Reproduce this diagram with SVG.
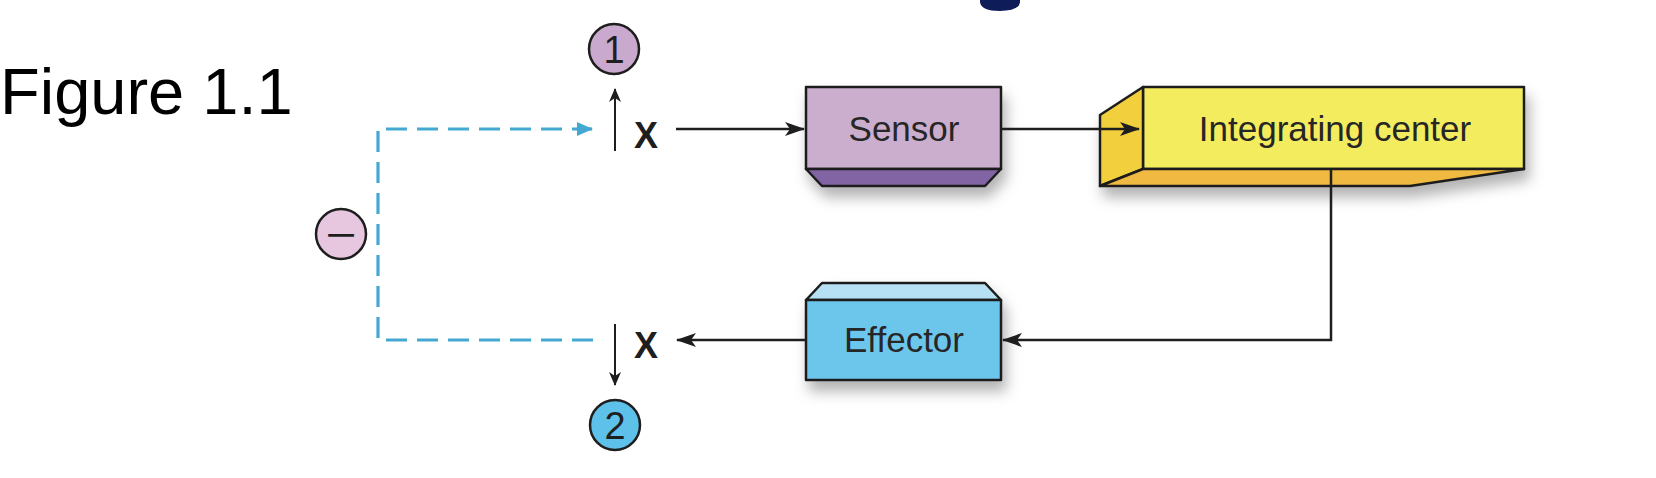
<svg xmlns="http://www.w3.org/2000/svg" width="1656" height="478" viewBox="0 0 1656 478">
<style>
.edge{fill:none;stroke:#1e1e1e;stroke-width:2.5}
.thin{fill:none;stroke:#1e1e1e;stroke-width:2}
.dash{fill:none;stroke:#45a8d3;stroke-width:3.2;stroke-dasharray:21 10}
.box{stroke:#1e1e1e;stroke-width:2.5;stroke-linejoin:round}
.lbl{font-family:"Liberation Sans",Arial,sans-serif;font-size:35px;fill:#262626;text-anchor:middle}
.num{font-family:"Liberation Sans",Arial,sans-serif;font-size:38px;fill:#1e1e1e;text-anchor:middle}
.x{font-family:"Liberation Sans",Arial,sans-serif;font-size:36px;font-weight:bold;fill:#1e1e1e;text-anchor:middle}
.circ{stroke:#1e1e1e;stroke-width:2.5}
</style>
<defs>
<marker id="ah" markerUnits="userSpaceOnUse" markerWidth="20" markerHeight="14" refX="19" refY="7" orient="auto">
<path d="M0,0 L20,7 L0,14 L5,7 z" fill="#1e1e1e"/>
</marker>
<marker id="ahs" markerUnits="userSpaceOnUse" markerWidth="14" markerHeight="12" refX="13" refY="6" orient="auto">
<path d="M0,0 L14,6 L0,12 L4,6 z" fill="#1e1e1e"/>
</marker>
<marker id="ahb" markerUnits="userSpaceOnUse" markerWidth="16" markerHeight="14" refX="15" refY="7" orient="auto">
<path d="M0,0 L16,7 L0,14 z" fill="#45a8d3"/>
</marker>
<filter id="sh" x="-20%" y="-30%" width="150%" height="180%">
<feDropShadow dx="4" dy="10" stdDeviation="7" flood-color="#000" flood-opacity="0.3"/>
</filter>
</defs>
<rect width="1656" height="478" fill="#ffffff"/>

<path d="M980,0 L1020,0 L1020,2 Q1019,11 1000,11 Q981,11 980,2 Z" fill="#0e1d5a"/>

<g id="title">
<text x="0" y="114" font-family="Liberation Sans,Arial,sans-serif" font-size="65" fill="#000">Figure 1.1</text>
</g>

<g id="node-sensor">
<g filter="url(#sh)">
<rect class="box" x="806" y="87" width="195" height="82" fill="#cbaece"/>
<polygon class="box" points="806,169 1001,169 985,186 822,186" fill="#8263a3"/>
</g>
<text class="lbl" x="904" y="141">Sensor</text>
</g>

<g id="node-integrating">
<g filter="url(#sh)">
<rect class="box" x="1143" y="87" width="381" height="82" fill="#f3ec5e"/>
<polygon class="box" points="1100,115 1143,87 1143,169 1100,186" fill="#f2d03e"/>
<polygon class="box" points="1100,186 1143,169 1524,169 1410,186" fill="#efb942"/>
</g>
<text class="lbl" x="1335" y="141">Integrating center</text>
</g>

<g id="node-effector">
<g filter="url(#sh)">
<polygon class="box" points="822,283 985,283 1001,300 806,300" fill="#b6e0f4"/>
<rect class="box" x="806" y="300" width="195" height="80" fill="#6cc6ec"/>
</g>
<text class="lbl" x="904" y="352">Effector</text>
</g>

<g id="node-x-top">
<text class="x" x="646" y="148">X</text>
</g>
<g id="node-x-bottom">
<text class="x" x="646" y="358">X</text>
</g>

<g id="node-circle-1">
<circle class="circ" cx="614" cy="49" r="25" fill="#c9a9cd"/>
<text class="num" x="614" y="63">1</text>
</g>

<g id="node-circle-2">
<circle class="circ" cx="615" cy="425" r="25" fill="#5ec1ea"/>
<text class="num" x="615" y="439">2</text>
</g>

<g id="node-minus">
<circle class="circ" cx="341" cy="234" r="25" fill="#e7c6df"/>
<text class="num" transform="translate(341,248) scale(1.4,1)" x="0" y="0" font-size="50">−</text>
</g>

<g id="connectors">
<path class="edge" d="M676,129 L804,129" marker-end="url(#ah)"/>
<path class="edge" d="M1001,129 L1139,129" marker-end="url(#ah)"/>
<path class="edge" d="M1331,169 L1331,340 L1003,340" marker-end="url(#ah)"/>
<path class="edge" d="M806,340 L677,340" marker-end="url(#ah)"/>
<path class="thin" d="M615,151 L615,89" marker-end="url(#ahs)"/>
<path class="thin" d="M615,324 L615,385" marker-end="url(#ahs)"/>
<path class="dash" d="M593,340 L378,340 L378,129 L576,129"/>
<path d="M576,129 L592,129" stroke="#45a8d3" stroke-width="3.2" marker-end="url(#ahb)"/>
</g>
</svg>
